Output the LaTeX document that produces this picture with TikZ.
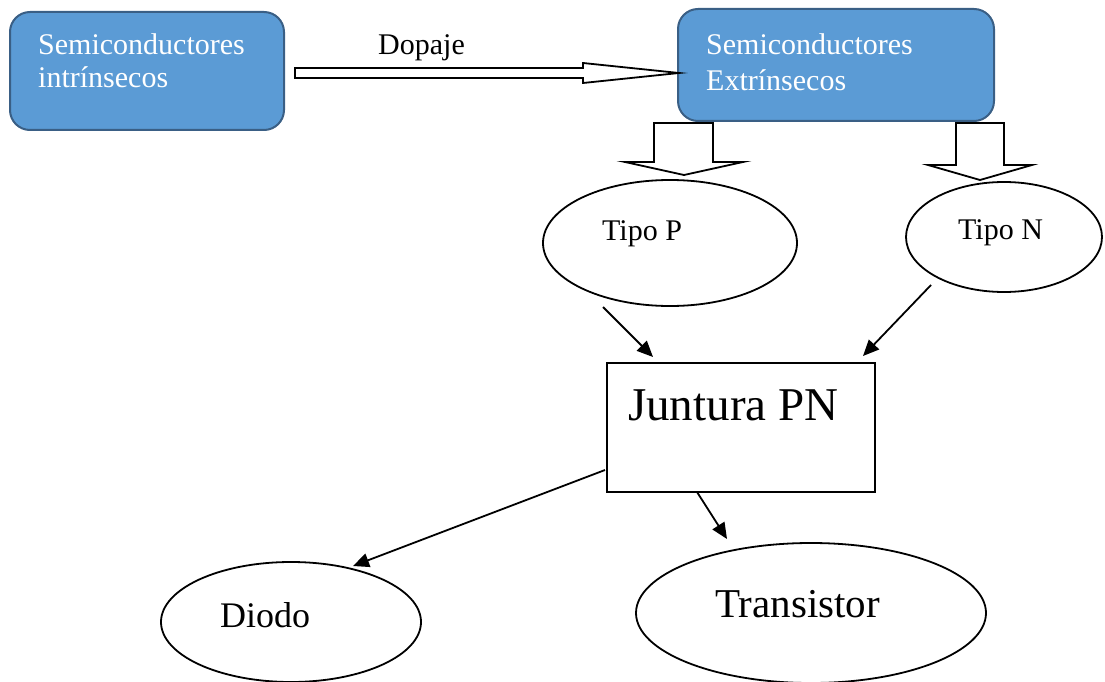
\documentclass[tikz,border=0pt]{standalone}
\usepackage{fontspec}
\setmainfont{Liberation Serif}
\usetikzlibrary{shapes.geometric,arrows.meta}
\definecolor{boxfill}{HTML}{5B9BD5}
\definecolor{boxline}{HTML}{3A5F85}
\begin{document}
\begin{tikzpicture}[x=1pt,y=-1pt,
  bluebox/.style={draw=boxline, fill=boxfill, line width=2pt, rounded corners=20pt, inner sep=0pt},
  bluetxt/.style={text=white, inner sep=0pt, anchor=base west, font=\fontsize{30}{33}\selectfont},
  blacktxt/.style={text=black, inner sep=0pt, anchor=base west, font=\fontsize{30}{33}\selectfont},
  oval/.style={ellipse, draw, line width=1.8pt, inner sep=0pt},
  blockarrow/.style={draw, line width=1.8pt, fill=white, line join=miter},
  conn/.style={line width=1.8pt, -{Triangle[length=16pt,width=14pt]}}
]
\useasboundingbox (0,0) rectangle (1105,682);

% blue boxes
\node[bluebox, minimum width=274pt, minimum height=118pt] (si) at (147,71) {};
\node[bluetxt] (si1) at (38,55) {Semiconductores};
\node[bluetxt] (si2) at (38,88) {intrínsecos};

\node[bluebox, minimum width=316pt, minimum height=112pt] (se) at (836,65) {};
\node[bluetxt] (se1) at (706,55) {Semiconductores};
\node[bluetxt] (se2) at (706,91) {Extrínsecos};

% Dopaje block arrow
\draw[blockarrow] (295,68) -- (583,68) -- (583,63) -- (679,73) -- (583,83) -- (583,78) -- (295,78) -- cycle;
\node[blacktxt] (dop) at (378,55) {Dopaje};

% down block arrows
\draw[blockarrow] (654,123) -- (654,162) -- (625,162) -- (684,175) -- (743,162) -- (713,162) -- (713,123) -- cycle;
\draw[blockarrow] (956,123) -- (956,165) -- (928,165) -- (980,180) -- (1032,165) -- (1004,165) -- (1004,123) -- cycle;

% ellipses
\node[oval, minimum width=254pt, minimum height=126pt] (tp) at (670,243) {};
\node[blacktxt] (tpt) at (602,240) {Tipo P};
\node[oval, minimum width=196pt, minimum height=110pt] (tn) at (1004,237) {};
\node[blacktxt] (tnt) at (958,239) {Tipo N};

% Juntura
\node[draw, line width=1.8pt, minimum width=268pt, minimum height=129pt, inner sep=0pt] (jpn) at (741,427.5) {};
\node[blacktxt, font=\fontsize{47}{50}\selectfont] (jpnt) at (628,420) {Juntura PN};

% bottom ellipses
\node[oval, minimum width=260pt, minimum height=120pt] (di) at (291,622) {};
\node[blacktxt, font=\fontsize{36}{40}\selectfont] (dit) at (220,627) {Diodo};
\node[oval, minimum width=350pt, minimum height=140pt] (tr) at (811,613) {};
\node[blacktxt, font=\fontsize{41}{45}\selectfont] (trt) at (715,617) {Transistor};

% connectors
\coordinate (a1) at (603,307);
\coordinate (b1) at (653,357);
\coordinate (a2) at (931,285);
\coordinate (b2) at (863,356);
\coordinate (a3) at (605,470);
\coordinate (b3) at (353,566);
\coordinate (a4) at (697,492);
\coordinate (b4) at (727,539);
\draw[conn] (a1) -- (b1);
\draw[conn] (a2) -- (b2);
\draw[conn] (a3) -- (b3);
\draw[conn] (a4) -- (b4);
\end{tikzpicture}
\end{document}
